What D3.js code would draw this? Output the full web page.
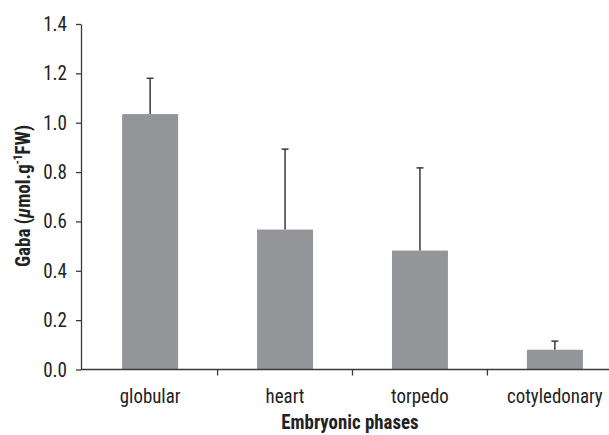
<!DOCTYPE html>
<html><head><meta charset="utf-8">
<script src="https://cdn.jsdelivr.net/npm/d3@7"></script>
<style>
body{margin:0;background:#fff;}
text{font-family:"Liberation Sans Narrow","Roboto Condensed","Arial Narrow","Liberation Sans",sans-serif;}
</style></head>
<body><svg id="c" width="609" height="435"></svg>
<script>
const categories = ["globular","heart","torpedo","cotyledonary"];
const values = [1.035, 0.567, 0.482, 0.080];
const errors = [0.145, 0.326, 0.335, 0.035];
const yTicks = [0,0.2,0.4,0.6,0.8,1.0,1.2,1.4];
const xTitle = "Embryonic phases";

const svg = d3.select("#c");
const mLeft = 81, mRight = 620, mTop = 24, mBottom = 369.5;
const x = d3.scaleBand().domain(categories).range([mLeft+2, mRight+2]).paddingInner(0.585).paddingOuter(0.29);
const y = d3.scaleLinear().domain([0,1.4]).range([mBottom, mTop]);
const axisColor = "#3a3a3a";
const fontFam = '"Liberation Sans Narrow","Roboto Condensed","Arial Narrow",sans-serif';

// bars
svg.append("g").selectAll("rect").data(categories).join("rect")
  .attr("x", d=>x(d)).attr("width", x.bandwidth())
  .attr("y", (d,i)=>y(values[i])).attr("height", (d,i)=>y(0)-y(values[i]))
  .attr("fill","#939598");

// error bars
const eg = svg.append("g").attr("stroke","#3a3a3a").attr("stroke-width",1.5);
categories.forEach((c,i)=>{
  const cx = x(c)+x.bandwidth()/2;
  eg.append("line").attr("x1",cx).attr("x2",cx).attr("y1",y(values[i])).attr("y2",y(values[i]+errors[i]));
  eg.append("line").attr("x1",cx-3.5).attr("x2",cx+3.5).attr("y1",y(values[i]+errors[i])).attr("y2",y(values[i]+errors[i]));
});

// y axis
const ya = svg.append("g").attr("transform",`translate(${mLeft},0)`)
  .call(d3.axisLeft(y).tickValues(yTicks).tickFormat(d3.format(".1f")).tickSize(5).tickSizeOuter(0));
ya.select(".domain").attr("stroke",axisColor).attr("stroke-width",1.3);
ya.selectAll(".tick line").attr("stroke",axisColor).attr("stroke-width",1.3);
ya.selectAll(".tick text").attr("fill","#222").attr("font-size",20.5)
  .attr("transform","scale(0.93,1)").attr("x",-14/0.93)
  .style("font-family",fontFam);

// x axis
svg.append("line").attr("x1",mLeft).attr("x2",609).attr("y1",mBottom).attr("y2",mBottom)
  .attr("stroke",axisColor).attr("stroke-width",1.3);
const xg = svg.append("g");
categories.forEach((c,i)=>{
  if(i>0){
    const tx = x(c) - x.step()*x.paddingInner()/2;
    xg.append("line").attr("x1",tx).attr("x2",tx).attr("y1",mBottom).attr("y2",mBottom+6)
      .attr("stroke",axisColor).attr("stroke-width",1.3);
  }
  xg.append("text").attr("transform",`translate(${x(c)+x.bandwidth()/2},${mBottom+33}) scale(0.9,1)`)
    .attr("text-anchor","middle").attr("font-size",21).attr("fill","#222").text(c);
});

svg.append("text").attr("transform","translate(350,429) scale(0.92,1)").attr("text-anchor","middle")
  .attr("font-size",20.5).attr("font-weight","bold").attr("fill","#222").text(xTitle);

const yt = svg.append("text").attr("transform","translate(29.5,196) rotate(-90) scale(0.93,1)")
  .attr("text-anchor","middle").attr("font-size",20.5).attr("font-weight","bold").attr("fill","#222");
yt.append("tspan").text("Gaba (");
yt.append("tspan").attr("font-style","italic").text("\u03bc");
yt.append("tspan").text("mol.g");
yt.append("tspan").attr("font-size",12).attr("dy",-8).text("-1");
yt.append("tspan").attr("dy",8).text("FW)");
</script></body></html>
